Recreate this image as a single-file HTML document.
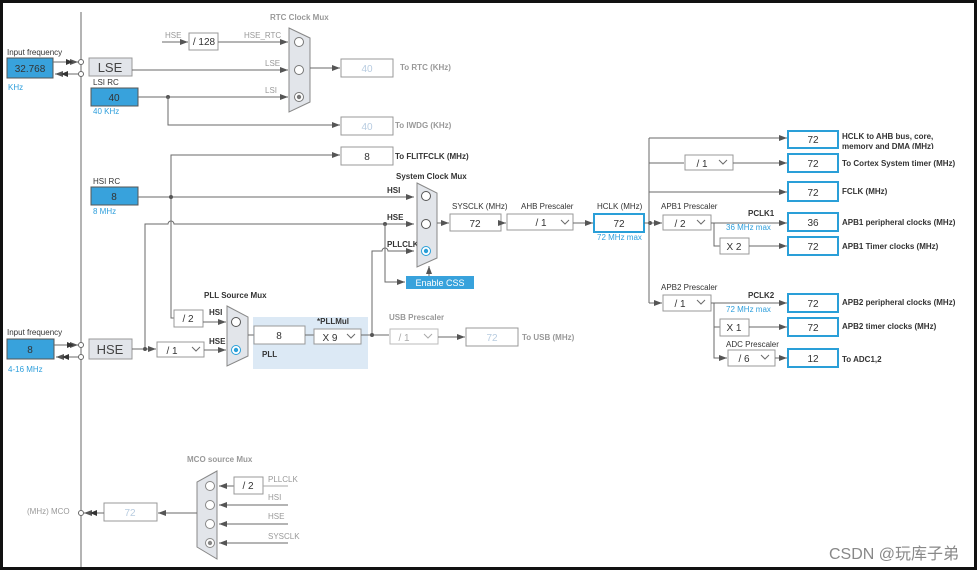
<!DOCTYPE html>
<html><head><meta charset="utf-8"><style>
html,body{margin:0;padding:0;background:#fff}
svg{display:block}
text{font-family:"Liberation Sans","Noto Sans CJK SC",sans-serif}
.l{font-size:8px;fill:#333}
.b{font-size:8px;fill:#333;font-weight:bold}
.g{font-size:8px;fill:#999}
.gb{font-size:8px;fill:#999;font-weight:bold}
.bl{font-size:8px;fill:#2f9fdc}
.v{font-size:10px;fill:#333;text-anchor:middle}
.vg{font-size:10px;fill:#b8cce0;text-anchor:middle}
.w{stroke:#6a6a6a;stroke-width:1;fill:none}
.wg{stroke:#aaa;stroke-width:1;fill:none}
.bx{fill:#fff;stroke:#999;stroke-width:1}
.ob{fill:#fff;stroke:#2a9fd8;stroke-width:2}
.blu{fill:#38a2dc;stroke:#555;stroke-width:1}
.mux{fill:#e2e5ea;stroke:#888;stroke-width:1}
</style></head><body>
<svg width="978" height="571" viewBox="0 0 978 571" xmlns="http://www.w3.org/2000/svg">
<defs>
<marker id="a" markerWidth="8" markerHeight="6" refX="8" refY="3" orient="auto" markerUnits="userSpaceOnUse"><path d="M0,0L8,3L0,6z" fill="#555"/></marker>
</defs>
<rect x="1.5" y="1.5" width="974" height="567" fill="#fff" stroke="#111" stroke-width="3"/>
<line x1="81" y1="12" x2="81" y2="567" class="w"/>

<text x="7" y="55" class="l">Input frequency</text>
<rect x="7" y="58" width="46" height="20" class="blu"/>
<text x="30" y="72" class="v">32.768</text>
<text x="8" y="90" class="bl">KHz</text>
<line x1="53" y1="62" x2="78" y2="62" class="w" marker-end="url(#a)"/>
<path d="M66,59L73,62L66,65z" fill="#333"/>
<line x1="79" y1="74" x2="55" y2="74" class="w" marker-end="url(#a)"/>
<path d="M68,71L61,74L68,77z" fill="#333"/>
<circle cx="81" cy="62" r="2.5" fill="#fff" stroke="#666"/>
<circle cx="81" cy="74" r="2.5" fill="#fff" stroke="#666"/>
<rect x="89" y="58" width="43" height="18" fill="#e2e5ea" stroke="#999"/>
<text x="110" y="72" style="font-size:13px;fill:#444;text-anchor:middle">LSE</text>

<text x="93" y="85" class="l">LSI RC</text>
<rect x="91" y="88" width="47" height="18" class="blu"/>
<text x="114" y="101" class="v">40</text>
<text x="93" y="114" class="bl">40 KHz</text>

<text x="270" y="20" class="gb">RTC Clock Mux</text>
<text x="165" y="38" class="g">HSE</text>
<line x1="162" y1="42" x2="188" y2="42" class="w" marker-end="url(#a)"/>
<rect x="189" y="33" width="29" height="17" class="bx"/>
<text x="204" y="45" class="v">/ 128</text>
<text x="244" y="38" class="g">HSE_RTC</text>
<line x1="218" y1="42" x2="288" y2="42" class="w" marker-end="url(#a)"/>
<text x="265" y="66" class="g">LSE</text>
<line x1="132" y1="70" x2="288" y2="70" class="w" marker-end="url(#a)"/>
<text x="265" y="93" class="g">LSI</text>
<line x1="138" y1="97" x2="288" y2="97" class="w" marker-end="url(#a)"/>
<circle cx="168" cy="97" r="2" fill="#555"/>
<polyline points="168,97 168,125 340,125" class="w" marker-end="url(#a)"/>
<polygon points="289,28 310,38 310,102 289,112" class="mux"/>
<circle cx="299" cy="42" r="4.5" fill="#fff" stroke="#777"/>
<circle cx="299" cy="70" r="4.5" fill="#fff" stroke="#777"/>
<circle cx="299" cy="97" r="4.5" fill="#fff" stroke="#777"/><circle cx="299" cy="97" r="2.2" fill="#777"/>
<line x1="310" y1="68" x2="340" y2="68" class="w" marker-end="url(#a)"/>
<rect x="341" y="59" width="52" height="18" class="bx"/>
<text x="367" y="72" class="vg">40</text>
<text x="400" y="70" class="gb">To RTC (KHz)</text>
<rect x="341" y="117" width="52" height="18" class="bx"/>
<text x="367" y="130" class="vg">40</text>
<text x="395" y="128" class="gb">To IWDG (KHz)</text>

<polyline points="171,310 171,155 340,155" class="w" marker-end="url(#a)"/>
<rect x="341" y="147" width="52" height="18" class="bx"/>
<text x="367" y="160" class="v">8</text>
<text x="395" y="159" class="b">To FLITFCLK (MHz)</text>

<text x="93" y="184" class="l">HSI RC</text>
<rect x="91" y="187" width="47" height="18" class="blu"/>
<text x="114" y="200" class="v">8</text>
<text x="93" y="214" class="bl">8 MHz</text>
<line x1="138" y1="197" x2="414" y2="197" class="w" marker-end="url(#a)"/>
<circle cx="171" cy="197" r="2" fill="#555"/>
<text x="387" y="193" class="b">HSI</text>

<path d="M145,349 V224 H168 A3,3 0 0 1 174,224 H414" class="w" marker-end="url(#a)"/>
<text x="387" y="220" class="b">HSE</text>
<circle cx="385" cy="224" r="2" fill="#555"/>
<polyline points="385,224 385,282 405,282" class="w" marker-end="url(#a)"/>
<rect x="406" y="276" width="68" height="13" fill="#38a2dc"/>
<text x="440" y="286" style="font-size:9px;fill:#fff;text-anchor:middle">Enable CSS</text>
<line x1="429" y1="276" x2="429" y2="266" class="w" marker-end="url(#a)"/>
<path d="M372,335 V251 H382 A3,3 0 0 1 388,251 H414" class="w" marker-end="url(#a)"/>
<text x="387" y="247" class="b">PLLCLK</text>
<text x="396" y="179" class="b">System Clock Mux</text>
<polygon points="417,183 437,193 437,258 417,267" class="mux"/>
<circle cx="426" cy="196" r="4.5" fill="#fff" stroke="#555"/>
<circle cx="426" cy="224" r="4.5" fill="#fff" stroke="#555"/>
<circle cx="426" cy="251" r="4.5" fill="#fff" stroke="#2a9fd8"/><circle cx="426" cy="251" r="2.2" fill="#2a9fd8"/>

<line x1="437" y1="223" x2="449" y2="223" class="w" marker-end="url(#a)"/>
<text x="452" y="209" class="l">SYSCLK (MHz)</text>
<rect x="450" y="214" width="51" height="17" class="bx"/>
<text x="475" y="227" class="v">72</text>
<line x1="501" y1="223" x2="506" y2="223" class="w" marker-end="url(#a)"/>
<text x="521" y="209" class="l">AHB Prescaler</text>
<rect x="507" y="214" width="66" height="16" class="bx"/>
<text x="541" y="226" class="v">/ 1</text>
<path d="M561,220l4,4l4,-4" class="w"/>
<line x1="573" y1="223" x2="593" y2="223" class="w" marker-end="url(#a)"/>
<text x="597" y="209" class="l">HCLK (MHz)</text>
<rect x="594" y="214" width="50" height="18" class="ob"/>
<text x="619" y="227" class="v">72</text>
<text x="597" y="240" class="bl">72 MHz max</text>

<line x1="644" y1="223" x2="662" y2="223" class="w" marker-end="url(#a)"/>
<circle cx="650" cy="223" r="2" fill="#555"/>
<line x1="649" y1="138" x2="649" y2="303" class="w"/>
<line x1="649" y1="138" x2="787" y2="138" class="w" marker-end="url(#a)"/>
<rect x="788" y="131" width="50" height="17" class="ob"/><text x="813" y="143" class="v">72</text>
<text x="842" y="139" class="b">HCLK to AHB bus, core,</text>
<text x="842" y="149" class="b">memory and DMA (MHz)</text>
<rect x="840" y="149" width="100" height="5" fill="#fff"/>
<line x1="649" y1="163" x2="684" y2="163" class="w"/>
<rect x="685" y="155" width="48" height="15" class="bx"/><text x="702" y="167" class="v">/ 1</text>
<path d="M719,160l4,4l4,-4" class="w"/>
<line x1="733" y1="163" x2="787" y2="163" class="w" marker-end="url(#a)"/>
<rect x="788" y="154" width="50" height="18" class="ob"/><text x="813" y="167" class="v">72</text>
<text x="842" y="166" class="b">To Cortex System timer (MHz)</text>
<line x1="649" y1="192" x2="787" y2="192" class="w" marker-end="url(#a)"/>
<rect x="788" y="182" width="50" height="19" class="ob"/><text x="813" y="196" class="v">72</text>
<text x="842" y="194" class="b">FCLK (MHz)</text>

<text x="661" y="209" class="l">APB1 Prescaler</text>
<rect x="663" y="215" width="48" height="15" class="bx"/><text x="680" y="227" class="v">/ 2</text>
<path d="M697,220l4,4l4,-4" class="w"/>
<line x1="711" y1="223" x2="787" y2="223" class="w" marker-end="url(#a)"/>
<text x="748" y="216" class="b">PCLK1</text>
<text x="726" y="230" class="bl">36 MHz max</text>
<rect x="788" y="213" width="50" height="18" class="ob"/><text x="813" y="226" class="v">36</text>
<text x="842" y="225" class="b">APB1 peripheral clocks (MHz)</text>
<polyline points="714,223 714,246 720,246" class="w"/>
<rect x="720" y="238" width="29" height="16" class="bx"/><text x="734" y="250" class="v">X 2</text>
<line x1="749" y1="246" x2="787" y2="246" class="w" marker-end="url(#a)"/>
<rect x="788" y="237" width="50" height="18" class="ob"/><text x="813" y="250" class="v">72</text>
<text x="842" y="249" class="b">APB1 Timer clocks (MHz)</text>

<line x1="649" y1="303" x2="662" y2="303" class="w" marker-end="url(#a)"/>
<text x="661" y="290" class="l">APB2 Prescaler</text>
<rect x="663" y="295" width="48" height="16" class="bx"/><text x="680" y="307" class="v">/ 1</text>
<path d="M697,300l4,4l4,-4" class="w"/>
<line x1="711" y1="303" x2="787" y2="303" class="w" marker-end="url(#a)"/>
<text x="748" y="298" class="b">PCLK2</text>
<text x="726" y="312" class="bl">72 MHz max</text>
<rect x="788" y="294" width="50" height="18" class="ob"/><text x="813" y="307" class="v">72</text>
<text x="842" y="305" class="b">APB2 peripheral clocks (MHz)</text>
<polyline points="714,303 714,358 727,358" class="w" marker-end="url(#a)"/>
<line x1="714" y1="327" x2="720" y2="327" class="w"/>
<rect x="720" y="319" width="29" height="17" class="bx"/><text x="734" y="331" class="v">X 1</text>
<line x1="749" y1="327" x2="787" y2="327" class="w" marker-end="url(#a)"/>
<rect x="788" y="318" width="50" height="18" class="ob"/><text x="813" y="331" class="v">72</text>
<text x="842" y="329" class="b">APB2 timer clocks (MHz)</text>
<text x="726" y="347" class="l">ADC Prescaler</text>
<rect x="728" y="350" width="47" height="16" class="bx"/><text x="744" y="362" class="v">/ 6</text>
<path d="M761,355l4,4l4,-4" class="w"/>
<line x1="775" y1="358" x2="787" y2="358" class="w" marker-end="url(#a)"/>
<rect x="788" y="349" width="50" height="18" class="ob"/><text x="813" y="362" class="v">12</text>
<text x="842" y="362" class="b">To ADC1,2</text>

<text x="7" y="335" class="l">Input frequency</text>
<rect x="7" y="339" width="47" height="20" class="blu"/>
<text x="30" y="353" class="v">8</text>
<text x="8" y="372" class="bl">4-16 MHz</text>
<line x1="54" y1="345" x2="78" y2="345" class="w" marker-end="url(#a)"/>
<path d="M67,342L74,345L67,348z" fill="#333"/>
<line x1="79" y1="357" x2="56" y2="357" class="w" marker-end="url(#a)"/>
<path d="M69,354L62,357L69,360z" fill="#333"/>
<circle cx="81" cy="345" r="2.5" fill="#fff" stroke="#666"/>
<circle cx="81" cy="357" r="2.5" fill="#fff" stroke="#666"/>
<rect x="89" y="339" width="43" height="20" fill="#e2e5ea" stroke="#999"/>
<text x="110" y="354" style="font-size:13px;fill:#444;text-anchor:middle">HSE</text>
<line x1="132" y1="349" x2="156" y2="349" class="w" marker-end="url(#a)"/>
<circle cx="145" cy="349" r="2" fill="#555"/>
<rect x="157" y="342" width="47" height="15" class="bx"/><text x="172" y="354" class="v">/ 1</text>
<path d="M192,347l4,4l4,-4" class="w"/>
<line x1="204" y1="350" x2="226" y2="350" class="w" marker-end="url(#a)"/>
<text x="209" y="344" class="b">HSE</text>
<polyline points="171,310 171,318 174,318" class="w"/>
<rect x="174" y="310" width="29" height="17" class="bx"/><text x="188" y="322" class="v">/ 2</text>
<line x1="203" y1="322" x2="226" y2="322" class="w" marker-end="url(#a)"/>
<text x="209" y="315" class="b">HSI</text>
<text x="204" y="298" class="b">PLL Source Mux</text>
<polygon points="227,306 248,317 248,356 227,366" class="mux"/>
<circle cx="236" cy="322" r="4.5" fill="#fff" stroke="#555"/>
<circle cx="236" cy="350" r="4.5" fill="#fff" stroke="#2a9fd8"/><circle cx="236" cy="350" r="2.2" fill="#2a9fd8"/>
<rect x="253" y="317" width="115" height="52" fill="#dce9f5"/>
<line x1="248" y1="335" x2="254" y2="335" class="w"/>
<rect x="254" y="326" width="51" height="18" class="bx"/><text x="279" y="339" class="v">8</text>
<text x="262" y="357" class="b">PLL</text>
<text x="317" y="324" class="b">*PLLMul</text>
<line x1="305" y1="335" x2="314" y2="335" class="w"/>
<rect x="314" y="329" width="47" height="15" class="bx"/><text x="330" y="341" class="v">X 9</text>
<path d="M347,334l4,4l4,-4" class="w"/>
<line x1="361" y1="335" x2="389" y2="335" class="w"/>
<circle cx="372" cy="335" r="2" fill="#555"/>
<text x="389" y="320" class="gb">USB Prescaler</text>
<rect x="390" y="329" width="48" height="15" fill="#fff" stroke="#bbb"/><text x="404" y="341" class="vg" style="fill:#aaa">/ 1</text>
<path d="M424,334l4,4l4,-4" class="wg"/>
<line x1="438" y1="337" x2="465" y2="337" class="w" marker-end="url(#a)"/>
<rect x="466" y="328" width="52" height="18" class="bx"/><text x="492" y="341" class="vg">72</text>
<text x="522" y="340" class="gb">To USB (MHz)</text>

<text x="187" y="462" class="gb">MCO source Mux</text>
<polygon points="217,471 197,482 197,547 217,559" class="mux"/>
<circle cx="210" cy="486" r="4.5" fill="#fff" stroke="#888"/>
<circle cx="210" cy="505" r="4.5" fill="#fff" stroke="#888"/>
<circle cx="210" cy="524" r="4.5" fill="#fff" stroke="#888"/>
<circle cx="210" cy="543" r="4.5" fill="#fff" stroke="#888"/><circle cx="210" cy="543" r="2.2" fill="#888"/>
<line x1="234" y1="486" x2="219" y2="486" class="w" marker-end="url(#a)"/>
<rect x="234" y="477" width="29" height="17" class="bx"/><text x="248" y="489" class="v">/ 2</text>
<line x1="263" y1="486" x2="288" y2="486" class="wg"/>
<text x="268" y="482" class="g">PLLCLK</text>
<line x1="288" y1="505" x2="219" y2="505" class="w" marker-end="url(#a)"/>
<text x="268" y="500" class="g">HSI</text>
<line x1="288" y1="524" x2="219" y2="524" class="w" marker-end="url(#a)"/>
<text x="268" y="519" class="g">HSE</text>
<line x1="288" y1="543" x2="219" y2="543" class="w" marker-end="url(#a)"/>
<text x="268" y="539" class="g">SYSCLK</text>
<line x1="197" y1="513" x2="158" y2="513" class="w" marker-end="url(#a)"/>
<rect x="104" y="503" width="53" height="18" class="bx"/><text x="130" y="516" class="vg">72</text>
<line x1="104" y1="513" x2="84" y2="513" class="w" marker-end="url(#a)"/>
<path d="M97,510L90,513L97,516z" fill="#333"/>
<circle cx="81" cy="513" r="2.5" fill="#fff" stroke="#666"/>
<text x="27" y="514" class="g">(MHz) MCO</text>

<text x="829" y="559" style="font-size:16px;fill:#888">CSDN @玩库子弟</text>
</svg>
</body></html>
